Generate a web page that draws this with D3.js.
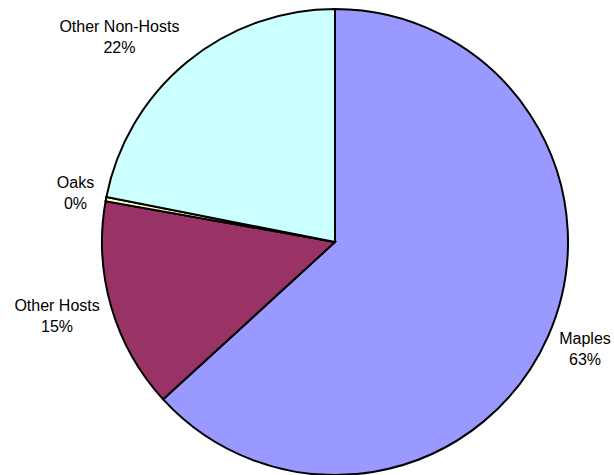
<!DOCTYPE html>
<html>
<head>
<meta charset="utf-8">
<script src="https://cdn.jsdelivr.net/npm/d3@7"></script>
<style>
  body { margin: 0; background: #fff; }
  svg text { font-family: "Liberation Sans", Arial, sans-serif; font-size: 16px; fill: #000; }
</style>
</head>
<body>
<svg width="614" height="475"></svg>
<script>
// slice order is clockwise from 12 o'clock, as Excel draws it
var categories = ["Maples", "Other Hosts", "Oaks", "Other Non-Hosts"];
var shares = [63.2, 14.6, 0.3, 21.9];
var sliceColors = ["#9999FF", "#993366", "#FFFFCC", "#CCFFFF"];

var svg = d3.select("svg");
var cx = 335, cy = 242, radius = 233;
var lineGap = 21;

var data = categories.map(function(c, i) {
    return { name: c, value: shares[i], color: sliceColors[i] };
});

var pie = d3.pie()
    .sort(null)
    .value(function(d) { return d.value; });

var arc = d3.arc()
    .innerRadius(0)
    .outerRadius(radius);

var g = svg.append("g")
    .attr("transform", "translate(" + cx + "," + cy + ")");

var arcs = pie(data);

g.selectAll("path.slice")
    .data(arcs)
    .enter().append("path")
        .attr("class", "slice")
        .attr("d", arc)
        .attr("fill", function(d) { return d.data.color; })
        .attr("stroke", "#000")
        .attr("stroke-width", 2);

var labels = g.selectAll("text.label")
    .data(arcs)
    .enter().append("text")
        .attr("class", "label")
        .attr("text-anchor", "middle");

labels.append("tspan")
    .attr("x", 0)
    .attr("dy", 0)
    .text(function(d) { return d.data.name; });

labels.append("tspan")
    .attr("x", 0)
    .attr("dy", lineGap)
    .text(function(d) { return Math.round(d.data.value) + "%"; });

// labels sit just outside the rim; the block's near edge touches the anchor
labels.each(function(d) {
    var a = (d.startAngle + d.endAngle) / 2;
    var w = this.getBBox().width;
    var r = radius + 12;
    var x = Math.sin(a) * r + (Math.sin(a) < 0 ? -w / 2 : w / 2);
    var yMid = -Math.cos(a) * r - Math.cos(a) * lineGap;
    d3.select(this).attr("transform", "translate(" + x + "," + (yMid - 5) + ")");
});
</script>
</body>
</html>
